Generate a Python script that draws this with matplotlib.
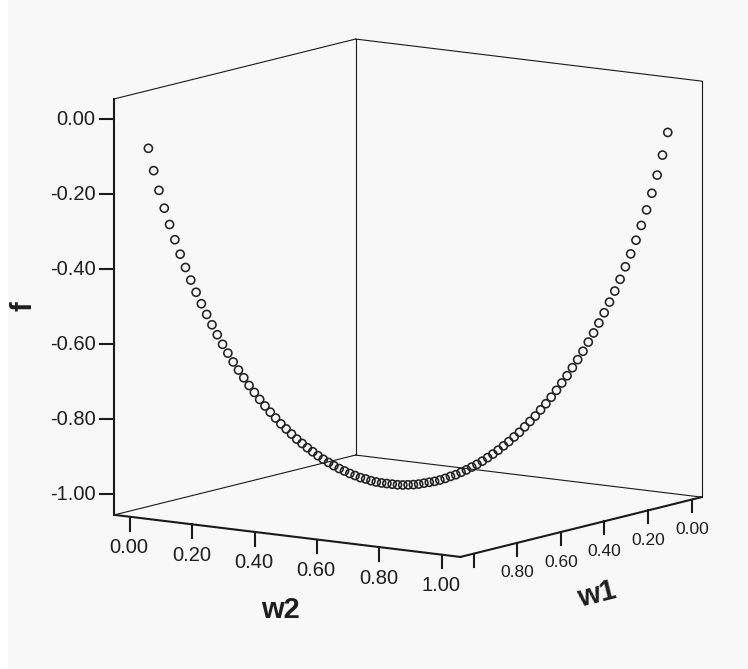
import numpy as np
import matplotlib
matplotlib.use('Agg')
import matplotlib.pyplot as plt
from matplotlib.patches import Rectangle
from mpl_toolkits.mplot3d import proj3d

plt.rcParams['font.family'] = ['Liberation Sans', 'DejaVu Sans']

# data
w2 = [0.01, 0.02, 0.03, 0.04, 0.05, 0.06, 0.07, 0.08, 0.09, 0.10,
      0.11, 0.12, 0.13, 0.14, 0.15, 0.16, 0.17, 0.18, 0.19, 0.20,
      0.21, 0.22, 0.23, 0.24, 0.25, 0.26, 0.27, 0.28, 0.29, 0.30,
      0.31, 0.32, 0.33, 0.34, 0.35, 0.36, 0.37, 0.38, 0.39, 0.40,
      0.41, 0.42, 0.43, 0.44, 0.45, 0.46, 0.47, 0.48, 0.49, 0.50,
      0.51, 0.52, 0.53, 0.54, 0.55, 0.56, 0.57, 0.58, 0.59, 0.60,
      0.61, 0.62, 0.63, 0.64, 0.65, 0.66, 0.67, 0.68, 0.69, 0.70,
      0.71, 0.72, 0.73, 0.74, 0.75, 0.76, 0.77, 0.78, 0.79, 0.80,
      0.81, 0.82, 0.83, 0.84, 0.85, 0.86, 0.87, 0.88, 0.89, 0.90,
      0.91, 0.92, 0.93, 0.94, 0.95, 0.96, 0.97, 0.98, 0.99]
w1 = [0.99, 0.98, 0.97, 0.96, 0.95, 0.94, 0.93, 0.92, 0.91, 0.90,
      0.89, 0.88, 0.87, 0.86, 0.85, 0.84, 0.83, 0.82, 0.81, 0.80,
      0.79, 0.78, 0.77, 0.76, 0.75, 0.74, 0.73, 0.72, 0.71, 0.70,
      0.69, 0.68, 0.67, 0.66, 0.65, 0.64, 0.63, 0.62, 0.61, 0.60,
      0.59, 0.58, 0.57, 0.56, 0.55, 0.54, 0.53, 0.52, 0.51, 0.50,
      0.49, 0.48, 0.47, 0.46, 0.45, 0.44, 0.43, 0.42, 0.41, 0.40,
      0.39, 0.38, 0.37, 0.36, 0.35, 0.34, 0.33, 0.32, 0.31, 0.30,
      0.29, 0.28, 0.27, 0.26, 0.25, 0.24, 0.23, 0.22, 0.21, 0.20,
      0.19, 0.18, 0.17, 0.16, 0.15, 0.14, 0.13, 0.12, 0.11, 0.10,
      0.09, 0.08, 0.07, 0.06, 0.05, 0.04, 0.03, 0.02, 0.01]
f = [-0.081, -0.141, -0.194, -0.242, -0.286, -0.327, -0.366, -0.402, -0.436, -0.469,
     -0.500, -0.529, -0.557, -0.584, -0.610, -0.634, -0.658, -0.680, -0.701, -0.722,
     -0.741, -0.760, -0.778, -0.795, -0.811, -0.827, -0.841, -0.855, -0.869, -0.881,
     -0.893, -0.904, -0.915, -0.925, -0.934, -0.943, -0.951, -0.958, -0.965, -0.971,
     -0.977, -0.981, -0.986, -0.990, -0.993, -0.995, -0.997, -0.999, -1.000, -1.000,
     -1.000, -0.999, -0.997, -0.995, -0.993, -0.990, -0.986, -0.981, -0.977, -0.971,
     -0.965, -0.958, -0.951, -0.943, -0.934, -0.925, -0.915, -0.904, -0.893, -0.881,
     -0.869, -0.855, -0.841, -0.827, -0.811, -0.795, -0.778, -0.760, -0.741, -0.722,
     -0.701, -0.680, -0.658, -0.634, -0.610, -0.584, -0.557, -0.529, -0.500, -0.469,
     -0.436, -0.402, -0.366, -0.327, -0.286, -0.242, -0.194, -0.141, -0.081]

f_ticks = [0.0, -0.2, -0.4, -0.6, -0.8, -1.0]
f_labels = ['0.00', '-0.20', '-0.40', '-0.60', '-0.80', '-1.00']
w2_ticks = [0.0, 0.2, 0.4, 0.6, 0.8, 1.0]
w2_labels = ['0.00', '0.20', '0.40', '0.60', '0.80', '1.00']
w1_ticks = [0.0, 0.2, 0.4, 0.6, 0.8, 1.0]
w1_labels = ['0.00', '0.20', '0.40', '0.60', '0.80']  # 1.00 tick has no label

# axis ranges of the box
W1_LO, W1_HI = -0.045, 1.06
W2_LO, W2_HI = -0.05, 1.06
F_LO, F_HI = -1.055, 0.055

W, H = 748, 669
ELEV, AZIM = 10, 35
TXT = '#1e1e1e'

fig = plt.figure(figsize=(W / 100, H / 100), dpi=100, facecolor='#f8f8f8')
fig.patches.append(Rectangle((0, 0), 8 / W, 1, transform=fig.transFigure,
                             facecolor='white', edgecolor='none', zorder=0))

ax = fig.add_axes([0, 0, 1, 1], projection='3d', proj_type='ortho',
                  computed_zorder=False)
ax.set_facecolor('none')
ax.view_init(elev=ELEV, azim=AZIM)
ax.set_xlim(W1_LO, W1_HI)
ax.set_ylim(W2_LO, W2_HI)
ax.set_zlim(F_LO, F_HI)
aspect = (W1_HI - W1_LO, W2_HI - W2_LO, F_HI - F_LO)
ax.set_box_aspect(aspect)
ax.set_axis_off()


def to_px(x, y, z):
    xs, ys, _ = proj3d.proj_transform(x, y, z, ax.get_proj())
    return ax.transData.transform((xs, ys))


# scale the box so the front-left edge is 416 px tall, centre it at (408, 298)
fig.canvas.draw()
h = to_px(W1_HI, W2_LO, F_HI)[1] - to_px(W1_HI, W2_LO, F_LO)[1]
ax.set_box_aspect(aspect, zoom=416 / h)
fig.canvas.draw()
c = to_px((W1_LO + W1_HI) / 2, (W2_LO + W2_HI) / 2, (F_LO + F_HI) / 2)
ax.set_position([(408 - c[0]) / W, (H - 298 - c[1]) / H, 1, 1])
fig.canvas.draw()

# box outline
thin = dict(color='#1a1a1a', lw=0.8, zorder=1)
thick = dict(color='#1a1a1a', lw=1.5, zorder=1)
ax.plot([W1_HI, W1_LO], [W2_LO, W2_LO], [F_HI, F_HI], **thin)
ax.plot([W1_LO, W1_LO], [W2_LO, W2_HI], [F_HI, F_HI], **thin)
ax.plot([W1_LO, W1_LO], [W2_LO, W2_LO], [F_LO, F_HI], **thin)
ax.plot([W1_LO, W1_LO], [W2_HI, W2_HI], [F_LO, F_HI], **thin)
ax.plot([W1_HI, W1_LO], [W2_LO, W2_LO], [F_LO, F_LO], **thin)
ax.plot([W1_LO, W1_LO], [W2_LO, W2_HI], [F_LO, F_LO], **thin)
ax.plot([W1_HI, W1_HI], [W2_LO, W2_LO], [F_LO, F_HI], **thick)
ax.plot([W1_HI, W1_HI], [W2_LO, W2_HI], [F_LO, F_LO], **thick)
ax.plot([W1_HI, W1_LO], [W2_HI, W2_HI], [F_LO, F_LO], **thick)

# one screen pixel expressed in data units, and the screen-left direction
px = 1 / 380
left = np.array([np.sin(np.radians(AZIM)), -np.cos(np.radians(AZIM))])


def label(x, y, z, s, dx=0, dy=0, **kw):
    # place a 2D text at the projected position of a 3D point, offset in pixels
    p = to_px(x, y, z)
    fig.text((p[0] + dx) / W, (p[1] + dy) / H, s, color=TXT, **kw)


for t, s in zip(f_ticks, f_labels):
    ax.plot([W1_HI, W1_HI + left[0] * 14 * px], [W2_LO, W2_LO + left[1] * 14 * px],
            [t, t], **thick)
    label(W1_HI, W2_LO, t, s, dx=-19, ha='right', va='center', fontsize=14.5)

for t, s in zip(w2_ticks, w2_labels):
    ax.plot([W1_HI, W1_HI], [t, t], [F_LO, F_LO - 14 * px], **thick)
    label(W1_HI, t, F_LO, s, dx=-1, dy=-31, ha='center', va='center', fontsize=14.5)

for t in w1_ticks:
    ax.plot([t, t], [W2_HI, W2_HI], [F_LO, F_LO - 13 * px], **thick)
for t, s in zip(w1_ticks, w1_labels):
    label(t, W2_HI, F_LO, s, dy=-30, ha='center', va='center', fontsize=12.5)

ax.scatter(w1, w2, f, s=34, facecolors='none', edgecolors='#222222',
           linewidths=1.15, depthshade=False, zorder=2)

fig.text(23 / W, 1 - 306 / H, 'f', rotation=90, ha='center', va='center',
         fontsize=21, fontweight='bold', color=TXT)
fig.text(280 / W, 1 - 610 / H, 'w2', ha='center', va='center',
         fontsize=21, fontweight='bold', color=TXT)
fig.text(597 / W, 1 - 595 / H, 'w1', rotation=14, ha='center', va='center',
         fontsize=21, fontweight='bold', color=TXT)

plt.savefig('out.png', dpi=100, facecolor=fig.get_facecolor())
